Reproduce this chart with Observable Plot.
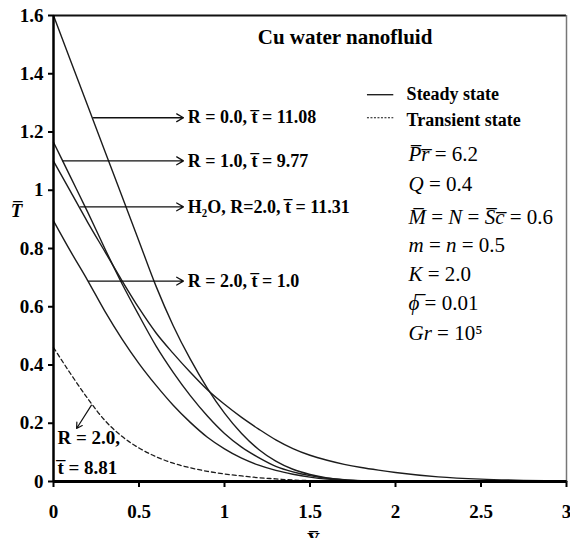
<!DOCTYPE html>
<html><head><meta charset="utf-8">
<script src="https://cdn.jsdelivr.net/npm/d3@7"></script>
<script src="https://cdn.jsdelivr.net/npm/@observablehq/plot@0.6"></script>
<style>html,body{margin:0;padding:0;background:#fff;overflow:hidden}#chart svg{display:block}#chart svg text{font-family:"Liberation Serif","Times New Roman",serif}</style>
</head><body><div id="chart"></div>
<script>
// ---- data ----
const xGrid = [0,0.1,0.2,0.3,0.4,0.5,0.6,0.7,0.8,0.9,1.0,1.1,1.2,1.3,1.4,1.5,1.6,1.7,1.8,1.9,2.0,2.25,2.5,2.75,3.0];
const steadyR0 =   [1.60,1.445,1.29,1.135,0.98,0.825,0.67,0.535,0.42,0.32,0.235,0.165,0.11,0.07,0.042,0.024,0.012,0.005,0.002,0,0,0,0,0,0];
const steadyR1 =   [1.165,1.045,0.925,0.80,0.68,0.57,0.465,0.375,0.295,0.225,0.165,0.118,0.082,0.052,0.033,0.02,0.011,0.006,0.003,0.001,0,0,0,0,0];
const steadyH2O =  [1.10,0.995,0.89,0.79,0.69,0.595,0.51,0.44,0.375,0.315,0.265,0.22,0.18,0.143,0.113,0.09,0.073,0.059,0.048,0.039,0.031,0.016,0.008,0.004,0.002];
const steadyR2 =   [0.895,0.79,0.69,0.585,0.49,0.405,0.33,0.262,0.203,0.152,0.112,0.08,0.056,0.038,0.025,0.015,0.008,0.004,0.002,0.001,0,0,0,0,0];
const transientR2 =[0.46,0.37,0.285,0.21,0.155,0.115,0.085,0.063,0.047,0.035,0.026,0.019,0.013,0.009,0.005,0.003,0.002,0.001,0,0,0,0,0,0,0];
const xTicks = [0,0.5,1,1.5,2,2.5,3];
const yTicks = [0,0.2,0.4,0.6,0.8,1,1.2,1.4,1.6];

const curveLabels = ["R = 0.0, t\u0305 = 11.08","R = 1.0, t\u0305 = 9.77","H\u2082O, R=2.0, t\u0305 = 11.31","R = 2.0, t\u0305 = 1.0"];
const transientLabel = ["R = 2.0,","t\u0305 = 8.81"];
const titleText = "Cu water nanofluid";
const legendLabels = ["Steady state","Transient state"];
const paramLabels = ["P\u0305r\u0305 = 6.2","Q = 0.4","M\u0305 = N = S\u0305c\u0305 = 0.6","m = n = 0.5","K = 2.0","\u03D5\u0305 = 0.01","Gr = 10\u2075"];
const yLabel = "T\u0305";
const xLabel = "Y\u0305";

// ---- layout (annotation anchors, data units) ----
const arrowFromX = [0.234,0.053,0.158,0.205];
const arrowY = [1.249,1.101,0.943,0.688];
const arrowToX = 0.76, labelX = 0.785;
const legendY = [1.328,1.249];
const paramY = [1.122,1.022,0.908,0.812,0.712,0.613,0.509];

const steadyRows = [];
[["R0",steadyR0],["R1",steadyR1],["H2O",steadyH2O],["R2",steadyR2]].forEach(([s,vals])=>{
  xGrid.forEach((x,i)=>steadyRows.push({series:s,x,y:vals[i]}));
});
const transientRows = xGrid.map((x,i)=>({x,y:transientR2[i]}));

const serif = "Liberation Serif";

const chart = Plot.plot({
  width: 570, height: 538,
  marginLeft: 53, marginRight: 4, marginTop: 15, marginBottom: 57,
  x: {domain: [0,3]},
  y: {domain: [0,1.6]},
  style: {fontFamily: serif, fontSize: "17px", fontWeight: "bold", color: "#000", background: "#fff"},
  marks: [
    Plot.axisY({ticks: yTicks, tickSize: 5, tickPadding: 5, label: null, tickFormat: d => String(d), fontSize: 19, fontWeight: "bold", fontFamily: serif, strokeWidth: 2}),
    Plot.axisX({ticks: xTicks, tickSize: 6, tickPadding: 17, label: null, tickFormat: d => String(d), fontSize: 19, fontWeight: "bold", fontFamily: serif, strokeWidth: 2}),
    Plot.ruleY([1.6], {stroke: "#111", strokeWidth: 2}),
    Plot.ruleX([3], {stroke: "#777", strokeWidth: 1.5}),
    Plot.line(steadyRows, {x: "x", y: "y", z: "series", stroke: "#1c1c1c", strokeWidth: 1.4, curve: "monotone-x"}),
    Plot.line(transientRows, {x: "x", y: "y", stroke: "#1c1c1c", strokeWidth: 1.3, strokeDasharray: "4,3", curve: "monotone-x"}),
    Plot.ruleY([0], {stroke: "#000", strokeWidth: 3}),
    Plot.ruleX([0], {stroke: "#000", strokeWidth: 2.5}),
    Plot.arrow(curveLabels, {x1: arrowFromX, y1: arrowY, x2: curveLabels.map(() => arrowToX), y2: arrowY, stroke: "#111", strokeWidth: 1.3, headLength: 9}),
    Plot.text(curveLabels, {x: curveLabels.map(() => labelX), y: arrowY, text: curveLabels, textAnchor: "start", fontSize: 18, fontWeight: "bold", fontFamily: serif}),
    Plot.arrow([0], {x1: [0.222], y1: [0.262], x2: [0.135], y2: [0.182], stroke: "#111", strokeWidth: 1.2, headLength: 8}),
    Plot.text(transientLabel, {x: [0.023,0.023], y: [0.148,0.048], text: transientLabel, textAnchor: "start", fontSize: 19, fontWeight: "bold", fontFamily: serif}),
    Plot.text([titleText], {x: [1.705], y: [1.524], text: [titleText], fontSize: 21, fontWeight: "bold", fontFamily: serif}),
    Plot.ruleY([legendY[0]], {x1: 1.836, x2: 1.99, stroke: "#111", strokeWidth: 1.3}),
    Plot.ruleY([legendY[1]], {x1: 1.836, x2: 1.99, stroke: "#111", strokeWidth: 1.2, strokeDasharray: "2,1.5"}),
    Plot.text(legendLabels, {x: [2.065,2.065], y: [legendY[0], legendY[1]-0.01], text: legendLabels, textAnchor: "start", fontSize: 18, fontWeight: "bold", fontFamily: serif}),
    Plot.text(paramLabels, {x: paramLabels.map(() => 2.076), y: paramY, text: paramLabels, textAnchor: "start", fontSize: 21, fontWeight: "normal", fontFamily: serif}),
    Plot.text([yLabel], {x: [-0.216], y: [0.93], text: [yLabel], fontSize: 19, fontWeight: "bold", fontStyle: "italic", fontFamily: serif}),
    Plot.text([xLabel], {x: [1.52], y: [-0.179], text: [xLabel], lineAnchor: "top", fontSize: 18, fontWeight: "bold", fontFamily: serif})
  ]
});
document.getElementById("chart").appendChild(chart);

// math-style parameter lines: letters italic, numbers and symbols upright
d3.select(chart).selectAll("text").each(function() {
  const el = this;
  const s = el.textContent;
  if (!paramLabels.includes(s)) return;
  const parts = [];
  for (const ch of s) {
    const isLetter = /[A-Za-z\u03D5\u0305]/.test(ch);
    const last = parts[parts.length - 1];
    if (last && last.it === isLetter) last.t += ch; else parts.push({t: ch, it: isLetter});
  }
  el.textContent = "";
  for (const p of parts) {
    const ts = document.createElementNS("http://www.w3.org/2000/svg", "tspan");
    ts.textContent = p.t;
    ts.setAttribute("font-style", p.it ? "italic" : "normal");
    el.appendChild(ts);
  }
});
</script>
</body></html>
